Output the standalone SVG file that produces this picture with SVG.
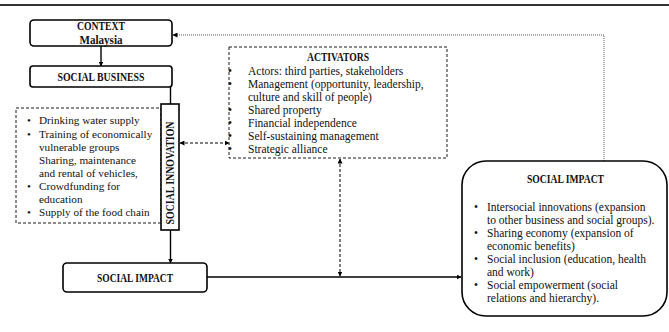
<svg xmlns="http://www.w3.org/2000/svg" width="669" height="332" viewBox="0 0 669 332">
  <defs>
    <marker id="arrow" viewBox="0 0 10 10" refX="9" refY="5" markerWidth="5" markerHeight="5" orient="auto-start-reverse" markerUnits="userSpaceOnUse">
      <path d="M0,0 L10,5 L0,10 z" fill="#000"/>
    </marker>
  </defs>
  <style>
    text { font-family: "Liberation Serif", "Times New Roman", serif; font-size: 11.5px; fill: #111; }
    .b { font-weight: bold; font-size: 12px; }
    .c { text-anchor: middle; }
    .s { font-size: 11.2px; }
    .box { fill: #fff; stroke: #000; stroke-width: 1.6; }
    .dash { fill: none; stroke: #000; stroke-width: 0.9; stroke-dasharray: 3 2; }
    .line { fill: none; stroke: #000; stroke-width: 1.4; }
    .dline { fill: none; stroke: #000; stroke-width: 1; stroke-dasharray: 3 2; }
    .dot { fill: none; stroke: #333; stroke-width: 0.8; stroke-dasharray: 1 1; }
  </style>
  <rect width="669" height="332" fill="#fff"/>
  <line x1="0" y1="5" x2="669" y2="5" stroke="#333" stroke-width="2"/>

  <g id="connectors">
    <line class="line" x1="101" y1="46" x2="101" y2="66" marker-end="url(#arrow)"/>
    <line class="line" x1="170.5" y1="87" x2="170.5" y2="104"/>
    <line class="line" x1="170.5" y1="230" x2="170.5" y2="263" marker-end="url(#arrow)"/>
    <line class="line" x1="207" y1="277" x2="461" y2="277" marker-end="url(#arrow)"/>
    <line class="dline" x1="180" y1="143" x2="229" y2="143" marker-start="url(#arrow)" marker-end="url(#arrow)"/>
    <line class="dline" x1="340" y1="159" x2="340" y2="276" marker-start="url(#arrow)" marker-end="url(#arrow)"/>
    <polyline class="dot" points="604,161 604,35 173,35" marker-end="url(#arrow)"/>
  </g>

  <g id="context">
    <rect class="box" x="30" y="20" width="142" height="26" rx="4"/>
    <text class="b c" x="101" y="30" textLength="48" lengthAdjust="spacingAndGlyphs">CONTEXT</text>
    <text class="b c" x="101" y="43.5" textLength="43" lengthAdjust="spacingAndGlyphs">Malaysia</text>
  </g>

  <g id="social-business">
    <rect class="box" x="30" y="66" width="142" height="21" rx="3"/>
    <text class="b c" x="101" y="81" textLength="87" lengthAdjust="spacingAndGlyphs">SOCIAL BUSINESS</text>
  </g>

  <g id="innovations">
    <rect class="dash" x="16" y="108" width="145" height="115"/>
    <text class="s" x="27" y="124">•</text><text class="s" x="39" y="124">Drinking water supply</text>
    <text class="s" x="27" y="138">•</text><text class="s" x="39" y="138">Training of economically</text>
    <text class="s" x="39" y="151">vulnerable groups</text>
    <text class="s" x="39" y="164">Sharing, maintenance</text>
    <text class="s" x="39" y="177">and rental of vehicles,</text>
    <text class="s" x="27" y="190">•</text><text class="s" x="39" y="190">Crowdfunding for</text>
    <text class="s" x="39" y="203">education</text>
    <text class="s" x="27" y="216">•</text><text class="s" x="39" y="216">Supply of the food chain</text>
  </g>

  <g id="social-innovation">
    <rect class="box" x="161" y="104" width="18" height="126"/>
    <text class="b c" transform="translate(174.3,173) rotate(-90)" x="0" y="0" textLength="103" lengthAdjust="spacingAndGlyphs">SOCIAL INNOVATION</text>
  </g>

  <g id="activators">
    <rect class="dash" x="229" y="47" width="218" height="111"/>
    <text class="b c" x="338" y="61" textLength="62" lengthAdjust="spacingAndGlyphs">ACTIVATORS</text>
    <text x="228" y="75">•</text><text x="248" y="75">Actors: third parties, stakeholders</text>
    <text x="228" y="88">•</text><text x="248" y="88">Management (opportunity, leadership,</text>
    <text x="248" y="101">culture and skill of people)</text>
    <text x="228" y="114">•</text><text x="248" y="114">Shared property</text>
    <text x="228" y="127">•</text><text x="248" y="127">Financial independence</text>
    <text x="228" y="140">•</text><text x="248" y="140">Self-sustaining management</text>
    <text x="228" y="153">•</text><text x="248" y="153">Strategic alliance</text>
  </g>

  <g id="social-impact">
    <rect class="box" x="63" y="263" width="144" height="29" rx="4"/>
    <text class="b c" x="135" y="282" textLength="76" lengthAdjust="spacingAndGlyphs">SOCIAL IMPACT</text>
  </g>

  <g id="social-impact-detail">
    <rect class="box" x="462" y="161" width="205" height="155" rx="24"/>
    <text class="b c" x="565.5" y="183" textLength="77" lengthAdjust="spacingAndGlyphs">SOCIAL IMPACT</text>
    <text x="474" y="211">•</text><text x="487" y="211">Intersocial innovations (expansion</text>
    <text x="487" y="224">to other business and social groups).</text>
    <text x="474" y="237">•</text><text x="487" y="237"> Sharing economy (expansion of</text>
    <text x="487" y="250">economic benefits)</text>
    <text x="474" y="263">•</text><text x="487" y="263">Social inclusion (education, health</text>
    <text x="487" y="276">and work)</text>
    <text x="474" y="289">•</text><text x="487" y="289">Social empowerment (social</text>
    <text x="487" y="302">relations and hierarchy).</text>
  </g>
</svg>
